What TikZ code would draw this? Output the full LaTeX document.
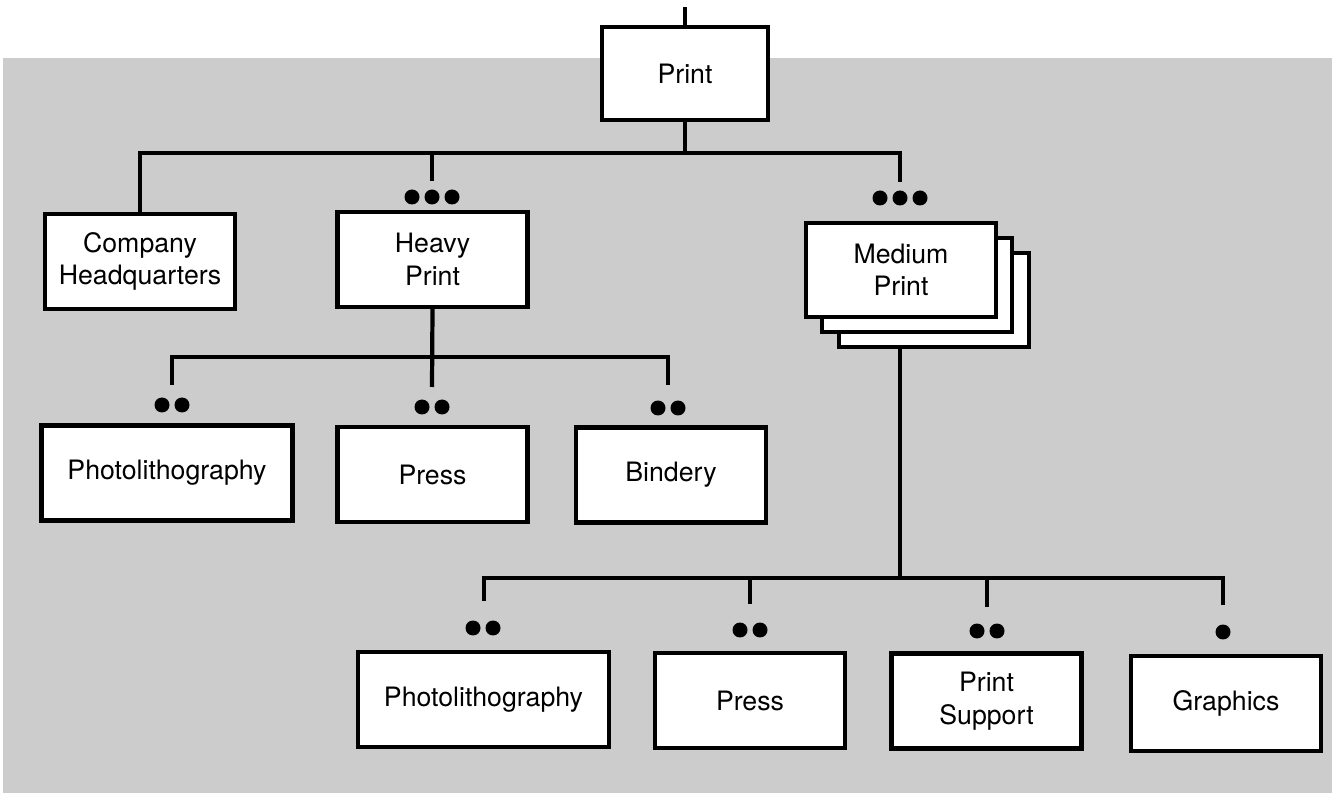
\documentclass[tikz,border=0pt]{standalone}
\usepackage{fontspec}
\setmainfont{TeX Gyre Heros}

\begin{document}
\begin{tikzpicture}[x=0.02cm,y=-0.02cm]
\tikzset{
  orgbox/.style={rectangle,draw=black,fill=white,line width=2.4pt,align=center,font=\fontsize{15.2}{18.5}\selectfont,minimum width=3.8cm,minimum height=1.9cm,inner sep=2pt},
  widebox/.style={orgbox,minimum width=5.02cm},
  link/.style={draw=black,line width=2.4pt,line cap=butt,line join=miter},
  dotmark/.style={circle,fill=black,inner sep=0pt,minimum size=3mm}
}
\useasboundingbox (0,0) rectangle (1332,793);
\fill[black!20] (3,58) rectangle (1332,793);
% boxes
\node[orgbox,minimum width=3.32cm,minimum height=1.86cm] (print) at (685,73.5) {Print};
\node[orgbox] (hq) at (140,261.5) {Company\\Headquarters};
\node[orgbox] (heavy) at (432.5,259.5) {Heavy\\Print};
\node[orgbox,minimum height=1.88cm] (medium3) at (934,300) {};
\node[orgbox,minimum height=1.88cm] (medium2) at (917,285) {};
\node[orgbox,minimum height=1.88cm] (medium) at (901,270) {Medium\\Print};
\node[widebox] (photoA) at (167,473) {Photolithography};
\node[orgbox] (pressA) at (432.5,474.5) {Press};
\node[orgbox] (bindery) at (671,475) {Bindery};
\node[widebox] (photoB) at (483.5,699.5) {Photolithography};
\node[orgbox] (pressB) at (750,700.5) {Press};
\node[orgbox] (support) at (986.5,701) {Print\\Support};
\node[orgbox] (graphics) at (1226,703.5) {Graphics};
% junctions and free ends
\coordinate (topIn) at (685,7);
\coordinate (printBus) at (685,153);
\coordinate (heavyTop) at (432,181);
\coordinate (mediumTop) at (900,182);
\coordinate (heavyBus) at (432,357);
\coordinate (photoATop) at (172,385);
\coordinate (pressATop) at (432,387);
\coordinate (binderyTop) at (668,385);
\coordinate (mediumOut) at (900,348);
\coordinate (mediumBus) at (900,578);
\coordinate (photoBTop) at (484,601);
\coordinate (pressBTop) at (750,604);
\coordinate (supportTop) at (987,607);
\coordinate (graphicsTop) at (1223,605);
% connectors
\draw[link] (topIn) -- (print.north);
\draw[link] (print.south) -- (printBus);
\draw[link] (hq.north) |- (printBus) -| (mediumTop);
\draw[link] (printBus) -| (heavyTop);
\draw[link] (heavy.south) -- (pressATop);
\draw[link] (photoATop) |- (heavyBus) -| (binderyTop);
\draw[link] (mediumOut) -- (mediumBus);
\draw[link] (photoBTop) |- (mediumBus) -| (graphicsTop);
\draw[link] (pressBTop) |- (mediumBus);
\draw[link] (supportTop) |- (mediumBus);
% dot marks
\foreach \dx/\n in {-20/a,0/b,20/c} {
  \node[dotmark] (heavyDot\n) at (432+\dx,197) {};
  \node[dotmark] (mediumDot\n) at (900+\dx,198) {};
}
\foreach \dx/\n in {-10/a,10/b} {
  \node[dotmark] (photoADot\n) at (172+\dx,405) {};
  \node[dotmark] (pressADot\n) at (432+\dx,407) {};
  \node[dotmark] (binderyDot\n) at (668+\dx,408) {};
  \node[dotmark] (photoBDot\n) at (483+\dx,628) {};
  \node[dotmark] (pressBDot\n) at (750+\dx,630) {};
  \node[dotmark] (supportDot\n) at (987+\dx,631) {};
}
\node[dotmark] (graphicsDot) at (1223,632) {};
\end{tikzpicture}
\end{document}
